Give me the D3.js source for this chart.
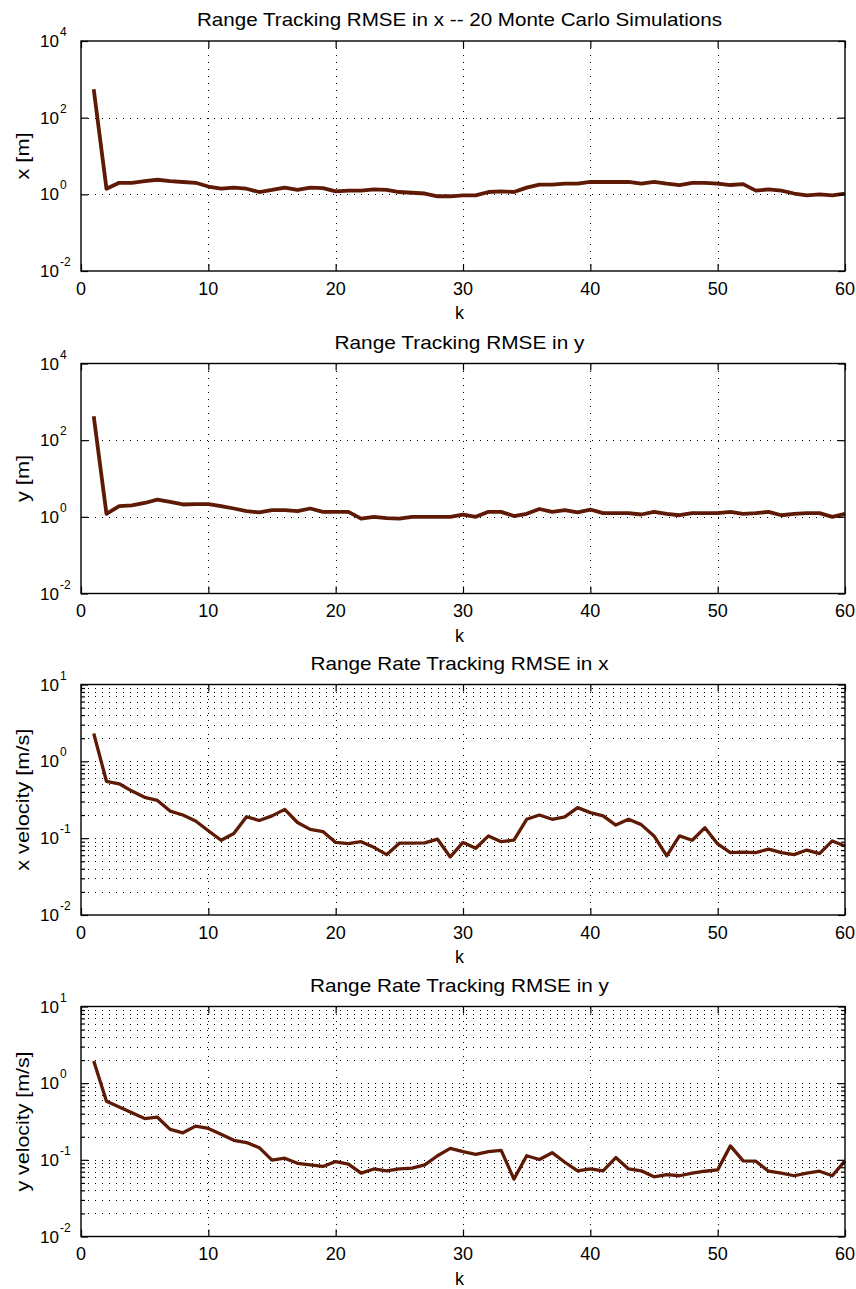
<!DOCTYPE html>
<html>
<head>
<meta charset="utf-8">
<script src="https://cdn.jsdelivr.net/npm/d3@7"></script>
<style>
  body { margin: 0; background: #fff; }
  svg { display: block; }
  text { font-family: "Liberation Sans", Arial, Helvetica, sans-serif; fill: #000; }
</style>
</head>
<body>
<svg id="fig" width="856" height="1289"></svg>
<script>
// Time step index
const steps = d3.range(1, 61);

// RMSE of position estimates over 20 Monte Carlo runs [m]
const rmseX = [550, 1.4, 2.0, 2.0, 2.2, 2.4, 2.2, 2.1, 2.0, 1.6,
               1.4, 1.5, 1.4, 1.15, 1.3, 1.5, 1.3, 1.5, 1.45, 1.2,
               1.25, 1.25, 1.35, 1.3, 1.15, 1.1, 1.05, 0.89, 0.89, 0.94,
               0.94, 1.15, 1.2, 1.15, 1.5, 1.8, 1.8, 1.9, 1.9, 2.1,
               2.1, 2.1, 2.1, 1.9, 2.1, 1.9, 1.75, 2.0, 2.0, 1.9,
               1.75, 1.85, 1.25, 1.35, 1.25, 1.05, 0.94, 1.0, 0.94, 1.05];

const rmseY = [420, 1.2, 1.9, 2.0, 2.3, 2.8, 2.45, 2.1, 2.15, 2.15,
               1.9, 1.65, 1.4, 1.3, 1.5, 1.5, 1.4, 1.65, 1.35, 1.35,
               1.35, 0.9, 1.0, 0.93, 0.9, 1.0, 1.0, 1.0, 1.0, 1.15,
               1.0, 1.35, 1.35, 1.05, 1.2, 1.6, 1.35, 1.5, 1.3, 1.55,
               1.25, 1.25, 1.25, 1.15, 1.35, 1.2, 1.1, 1.25, 1.25, 1.25,
               1.35, 1.2, 1.25, 1.35, 1.1, 1.2, 1.25, 1.25, 1.0, 1.2];

// RMSE of velocity estimates [m/s]
const rmseVx = [2.3, 0.55, 0.51, 0.41, 0.34, 0.31, 0.225, 0.2, 0.167, 0.125,
                0.094, 0.115, 0.19, 0.17, 0.195, 0.237, 0.16, 0.13, 0.122, 0.088,
                0.085, 0.09, 0.076, 0.061, 0.086, 0.086, 0.087, 0.097, 0.057, 0.088,
                0.074, 0.107, 0.09, 0.094, 0.176, 0.2, 0.176, 0.189, 0.25, 0.215,
                0.195, 0.148, 0.176, 0.15, 0.107, 0.059, 0.107, 0.094, 0.137, 0.084,
                0.065, 0.066, 0.065, 0.072, 0.065, 0.061, 0.07, 0.063, 0.092, 0.079];

const rmseVy = [1.95, 0.58, 0.49, 0.41, 0.345, 0.36, 0.25, 0.225, 0.275, 0.257,
                0.215, 0.18, 0.168, 0.144, 0.099, 0.105, 0.09, 0.086, 0.082, 0.095,
                0.088, 0.067, 0.076, 0.072, 0.076, 0.078, 0.086, 0.113, 0.141, 0.128,
                0.118, 0.128, 0.133, 0.056, 0.113, 0.101, 0.124, 0.093, 0.072, 0.076,
                0.072, 0.107, 0.076, 0.072, 0.06, 0.064, 0.062, 0.067, 0.071, 0.074,
                0.152, 0.097, 0.096, 0.071, 0.067, 0.062, 0.067, 0.071, 0.062, 0.097];

// Axis ticks
const kTicks = [0, 10, 20, 30, 40, 50, 60];
const posExponents = [-2, 0, 2, 4];
const velExponents = [-2, -1, 0, 1];

const titles = [
  "Range Tracking RMSE in x -- 20 Monte Carlo Simulations",
  "Range Tracking RMSE in y",
  "Range Rate Tracking RMSE in x",
  "Range Rate Tracking RMSE in y"
];
const yLabels = ["x [m]", "y [m]", "x velocity [m/s]", "y velocity [m/s]"];
const xLabel = "k";

// Panel layout
const left = 81, right = 845, textCenter = 459.5;
const lineColor = "#5e1a04";
const panels = [
  { values: rmseX,  exps: posExponents, minor: false, top: 41,    bottom: 271,   titleLen: 525, ylabLen: 47,  lw: 3.8 },
  { values: rmseY,  exps: posExponents, minor: false, top: 363.5, bottom: 593.5, titleLen: 250, ylabLen: 47,  lw: 3.8 },
  { values: rmseVx, exps: velExponents, minor: true,  top: 684.5, bottom: 915,   titleLen: 298, ylabLen: 142, lw: 3.3 },
  { values: rmseVy, exps: velExponents, minor: true,  top: 1006.5, bottom: 1236.5, titleLen: 299, ylabLen: 140, lw: 3.3 }
];

const svg = d3.select("#fig");

panels.forEach((p, i) => {
  const x = d3.scaleLinear().domain([0, 60]).range([left, right]);
  const lo = d3.min(p.exps), hi = d3.max(p.exps);
  const y = d3.scaleLog().domain([Math.pow(10, lo), Math.pow(10, hi)]).range([p.bottom, p.top]);

  const g = svg.append("g");

  // minor decade values (2..9 x 10^n)
  const minorVals = [];
  if (p.minor) {
    for (let e = lo; e < hi; e++) {
      for (let m = 2; m <= 9; m++) minorVals.push(m * Math.pow(10, e));
    }
  }
  const majorVals = p.exps.map(e => Math.pow(10, e));

  // dotted grid
  const grid = g.append("g")
    .attr("stroke", "#000").attr("stroke-width", 1)
    .attr("stroke-dasharray", "1,6").attr("shape-rendering", "crispEdges");
  grid.selectAll("line.v").data(kTicks.slice(1, -1)).join("line")
    .attr("x1", d => Math.round(x(d)) + 0.5).attr("x2", d => Math.round(x(d)) + 0.5)
    .attr("y1", p.top).attr("y2", p.bottom);
  grid.selectAll("line.h").data(majorVals.slice(1, -1).concat(minorVals)).join("line")
    .attr("x1", left).attr("x2", right)
    .attr("y1", d => Math.round(y(d)) + 0.5).attr("y2", d => Math.round(y(d)) + 0.5);

  // data line
  g.append("path")
    .datum(p.values.map((v, j) => [steps[j], v]))
    .attr("fill", "none")
    .attr("stroke", lineColor)
    .attr("stroke-width", p.lw)
    .attr("stroke-linejoin", "round")
    .attr("d", d3.line().x(d => x(d[0])).y(d => y(d[1])));

  // inward ticks on all four sides
  const majorLen = 7, minorLen = 4;
  const axisB = d3.axisBottom(x).tickValues(kTicks).tickSizeInner(-majorLen).tickSizeOuter(0).tickFormat("");
  const axisT = d3.axisTop(x).tickValues(kTicks).tickSizeInner(-majorLen).tickSizeOuter(0).tickFormat("");
  const axisL = d3.axisLeft(y).tickValues(majorVals).tickSizeInner(-majorLen).tickSizeOuter(0).tickFormat("");
  const axisR = d3.axisRight(y).tickValues(majorVals).tickSizeInner(-majorLen).tickSizeOuter(0).tickFormat("");
  const axes = [
    g.append("g").attr("transform", `translate(0,${p.bottom})`).call(axisB),
    g.append("g").attr("transform", `translate(0,${p.top})`).call(axisT),
    g.append("g").attr("transform", `translate(${left},0)`).call(axisL),
    g.append("g").attr("transform", `translate(${right},0)`).call(axisR)
  ];
  if (p.minor) {
    axes.push(g.append("g").attr("transform", `translate(${left},0)`)
      .call(d3.axisLeft(y).tickValues(minorVals).tickSizeInner(-minorLen).tickSizeOuter(0).tickFormat("")));
    axes.push(g.append("g").attr("transform", `translate(${right},0)`)
      .call(d3.axisRight(y).tickValues(minorVals).tickSizeInner(-minorLen).tickSizeOuter(0).tickFormat("")));
  }
  axes.forEach(a => {
    a.select(".domain").remove();
    a.selectAll("line").attr("stroke", "#000").attr("stroke-width", 1.2);
  });

  // box
  g.append("rect")
    .attr("x", left).attr("y", p.top)
    .attr("width", right - left).attr("height", p.bottom - p.top)
    .attr("fill", "none").attr("stroke", "#000").attr("stroke-width", 1.4);

  // x tick labels
  g.selectAll("text.xt").data(kTicks).join("text")
    .attr("x", d => x(d)).attr("y", p.bottom + 23.5)
    .attr("text-anchor", "middle").attr("font-size", 18)
    .text(d => d);

  // y tick labels as powers of ten
  const yt = g.selectAll("text.yt").data(p.exps).join("text")
    .attr("x", 40).attr("y", d => y(Math.pow(10, d)) + 6)
    .attr("font-size", 17);
  yt.append("tspan").text("10");
  yt.append("tspan").attr("font-size", 12).attr("dy", -11).attr("dx", 1).text(d => d);

  // title
  g.append("text")
    .attr("x", textCenter).attr("y", p.top - 15)
    .attr("text-anchor", "middle").attr("font-size", 19)
    .attr("textLength", p.titleLen).attr("lengthAdjust", "spacingAndGlyphs")
    .text(titles[i]);

  // x label
  g.append("text")
    .attr("x", textCenter).attr("y", p.bottom + 48)
    .attr("text-anchor", "middle").attr("font-size", 18)
    .text(xLabel);

  // y label
  const cy = (p.top + p.bottom) / 2;
  g.append("text")
    .attr("transform", `translate(29,${cy}) rotate(-90)`)
    .attr("text-anchor", "middle").attr("font-size", 19)
    .attr("textLength", p.ylabLen).attr("lengthAdjust", "spacingAndGlyphs")
    .text(yLabels[i]);
});
</script>
</body>
</html>
